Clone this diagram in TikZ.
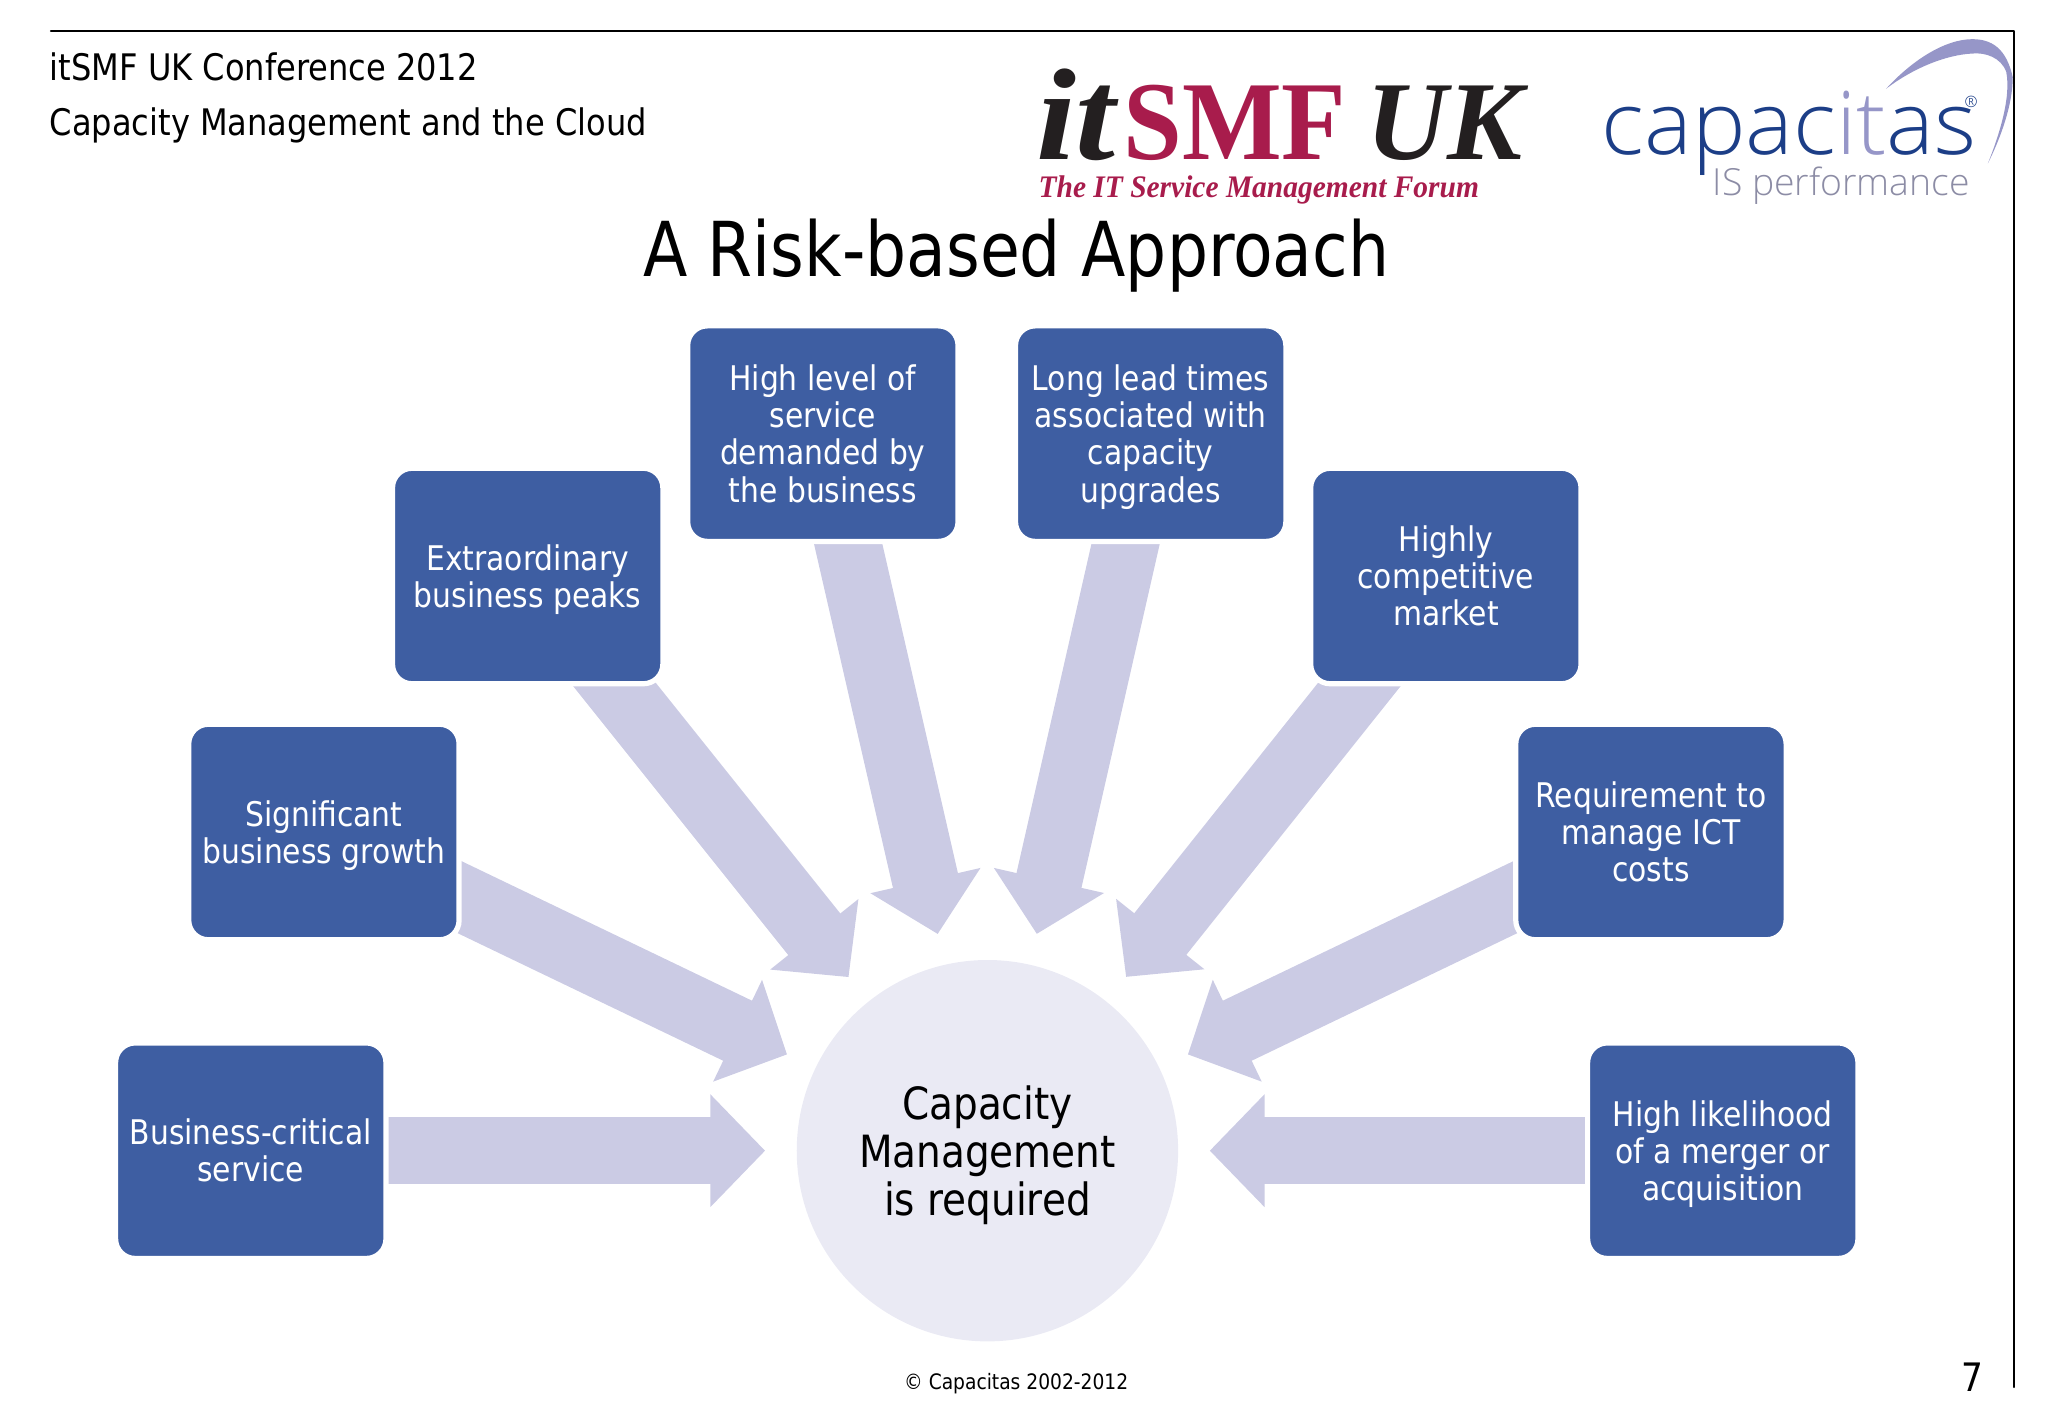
\documentclass[tikz,border=0pt]{standalone}
\usepackage{fontspec}
\setmainfont{DejaVu Sans Condensed}[FakeStretch=0.975]
\newfontfamily\titlefont{DejaVu Sans Condensed}[FakeStretch=0.95]
\newfontfamily\logoserif{Liberation Serif}
\newfontfamily\logosmffont{Liberation Serif}[FakeStretch=0.94]
\newfontfamily\logoitfont{Liberation Serif}[FakeStretch=1.1]
\newfontfamily\logotagfont{Liberation Serif}[FakeStretch=0.94]
\newfontfamily\logosans{Open Sans}[UprightFont={* Light},FakeStretch=1.03]
\newfontfamily\logosubfont{Open Sans}[UprightFont={* Light}]
\usetikzlibrary{arrows.meta,positioning,backgrounds}
\definecolor{boxblue}{RGB}{62,94,162}
\definecolor{arrowlilac}{RGB}{203,203,228}
\definecolor{hublilac}{RGB}{234,234,244}
\definecolor{smfred}{RGB}{168,28,76}
\definecolor{smfdark}{RGB}{35,31,32}
\definecolor{capnavy}{RGB}{28,62,135}
\definecolor{caplilac}{RGB}{150,150,200}
\definecolor{capgrey}{RGB}{140,140,165}
\newcommand{\toprule}{\rule{0pt}{1em}}
\tikzset{
  linestrut/.style={execute at end node={\rule[-.25em]{0pt}{.25em}}},
  causebox/.style={draw=white,line width=4pt,fill=boxblue,rounded corners=15pt,minimum width=207pt,minimum height=165pt,inner sep=0pt,align=center,text=white,linestrut,font=\fontsize{26}{28.4}\selectfont},
  flowarrow/.style={draw=arrowlilac,line width=51pt,-{Triangle[length=42pt,width=84pt]},shorten >=24pt},
  headtext/.style={anchor=base west,inner sep=0pt,font=\fontsize{28}{34}\selectfont},
  logotext/.style={anchor=base west,inner sep=0pt,text depth=0pt}
}
\begin{document}
\begin{tikzpicture}[x=1pt,y=-1pt]
\useasboundingbox (0,0) rectangle (1568,1085.6);
\draw[line width=1.6pt,line cap=round,line join=round] (39,24) -- (1542,24) -- (1542,1062);

\node(conference)[headtext] at (38,61.5){itSMF UK Conference 2012};
\node(talk)[headtext] at (38,104){Capacity Management and the Cloud};
\node(title)[inner sep=0pt,anchor=base,font=\titlefont\fontsize{58}{64}\selectfont] at (778,212){A Risk-based Approach};

% logos
\node(logoit)[logotext,text=smfdark,font=\logoitfont\bfseries\itshape\fontsize{100}{100}\selectfont] at (793,122){it};
\node(logosmf)[logotext,text=smfred,font=\logosmffont\bfseries\fontsize{86}{86}\selectfont] at (860,122){SMF};
\node(logouk)[logotext,text=smfdark,font=\logoserif\bfseries\itshape\fontsize{86}{86}\selectfont] at (1046,122){UK};
\node(logotag)[logotext,text height=15pt,text=smfred,font=\logotagfont\bfseries\itshape\fontsize{24}{24}\selectfont] at (795,151){The IT Service Management Forum};
\node(logocap)[logotext,text=capnavy,font=\logosans\fontsize{67}{67}\selectfont] at (1226,118){capac\textcolor{caplilac}{it}as};
\node(logoreg)[logotext,text=capnavy,font=\logosubfont\fontsize{12}{12}\selectfont] at (1504,82){®};
\node(logois)[logotext,text=capgrey,font=\logosubfont\fontsize{28.6}{28.6}\selectfont] at (1311,150){IS performance};
\fill[caplilac] (1444,68) .. controls (1465,45) and (1490,30) .. (1510,30) .. controls (1525,30) and (1536,37) .. (1541,59) .. controls (1541,80) and (1532,105) .. (1522,125) .. controls (1530,105) and (1540,75) .. (1536,55) .. controls (1532,44) and (1520,40) .. (1510,41) .. controls (1490,42) and (1465,52) .. (1444,68) -- cycle;

% causes
\node(critical)[causebox] at (192,881){\toprule Business-critical\\service};
\node(growth)[causebox] at (248,637){\toprule Significant\\business growth};
\node(peaks)[causebox] at (404,441){\toprule Extraordinary\\business peaks};
\node(demand)[causebox] at (630,332){\toprule High level of\\service\\demanded by\\the business};
\node(lead)[causebox] at (881,332){\toprule Long lead times\\associated with\\capacity\\upgrades};
\node(market)[causebox] at (1107,441){\toprule Highly\\competitive\\market};
\node(costs)[causebox] at (1264,637){\toprule Requirement to\\manage ICT\\costs};
\node(merger)[causebox] at (1319,881){\toprule High likelihood\\of a merger or\\acquisition};

\node(capacity)[circle,fill=hublilac,minimum size=292pt,inner sep=0pt,align=center,linestrut,font=\fontsize{34}{37}\selectfont] at (756,881){\toprule Capacity\\Management\\is required};

\begin{scope}[on background layer]
\foreach \n in {critical,growth,peaks,demand,lead,market,costs,merger}
  \draw[flowarrow] (\n.center) -- (capacity);
\end{scope}

\node(copyright)[inner sep=0pt,anchor=base,font=\fontsize{16.3}{20}\selectfont] at (778,1064){© Capacitas 2002-2012};
\node(pagenum)[inner sep=0pt,anchor=base,font=\fontsize{30}{32}\selectfont] at (1510,1065){7};
\end{tikzpicture}
\end{document}
